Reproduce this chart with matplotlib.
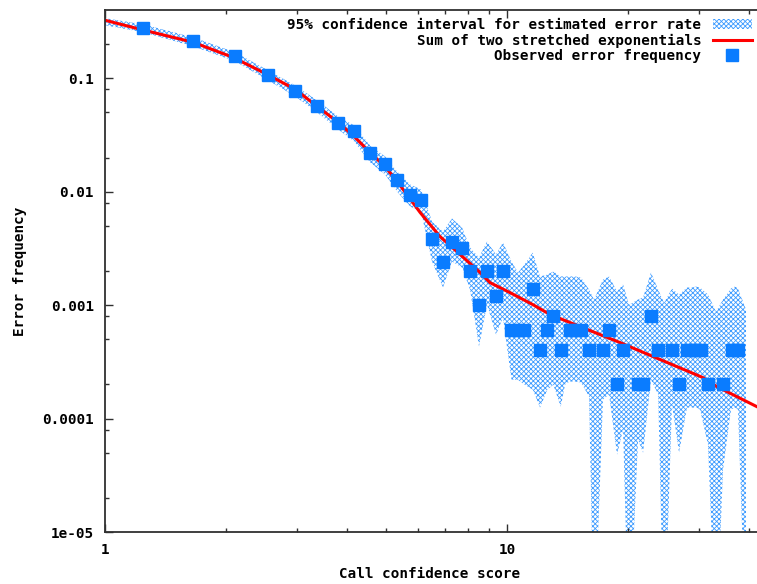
import matplotlib
matplotlib.use("Agg")
import matplotlib.pyplot as plt
from matplotlib.ticker import FixedLocator, FixedFormatter, NullFormatter

# observed error frequency per call-confidence bin
obs_score = [1.243, 1.655, 2.106, 2.544, 2.970, 3.369, 3.798, 4.164, 4.563, 4.972,
             5.326, 5.736, 6.110, 6.508, 6.931, 7.297, 7.728, 8.091, 8.518, 8.918,
             9.389, 9.772, 10.26, 10.65, 11.05, 11.59, 12.08, 12.60, 13.04, 13.60,
             14.31, 14.79, 15.28, 16.00, 17.30, 17.94, 18.75, 19.40, 21.18, 21.80,
             22.78, 23.79, 25.69, 26.83, 28.04, 28.77, 29.53, 30.29, 31.67, 34.52,
             36.18, 36.91, 37.55]
obs_freq = [0.276, 0.212, 0.156, 0.106, 0.0768, 0.0566, 0.0401, 0.0340, 0.0218, 0.0174,
            0.0126, 0.0093, 0.0085, 0.0038, 0.0024, 0.0036, 0.0032, 0.0020, 0.0010, 0.0020,
            0.0012, 0.0020, 0.0006, 0.0006, 0.0006, 0.0014, 0.0004, 0.0006, 0.0008, 0.0004,
            0.0006, 0.0006, 0.0006, 0.0004, 0.0004, 0.0006, 0.0002, 0.0004, 0.0002, 0.0002,
            0.0008, 0.0004, 0.0004, 0.0002, 0.0004, 0.0004, 0.0004, 0.0004, 0.0002, 0.0002,
            0.0004, 0.0004, 0.0004]

# fitted model (sum of two stretched exponentials)
fit_score = [1.0, 1.222, 1.655, 2.082, 2.529, 2.97, 3.37, 3.80, 4.19, 4.56, 4.97,
             5.33, 6.08, 6.81, 7.64, 8.57, 9.07, 10.17, 11.6, 12.8, 15.2, 19.1,
             23.1, 30.7, 33.3, 41.9, 46.0]
fit_freq = [0.325, 0.2707, 0.208, 0.153, 0.1084, 0.080, 0.0566, 0.0409, 0.0301,
            0.0222, 0.0167, 0.01233, 0.00656, 0.00403, 0.0028, 0.00194, 0.00158,
            0.00129, 0.00101, 0.000826, 0.000647, 0.000468, 0.000352, 0.00023,
            0.000191, 0.000127, 0.000112]

# 95% confidence band (lower bound 1e-6 = bin with no errors, runs off the axis)
ci_score = [1.0, 1.243, 1.655, 2.106, 2.544, 2.970, 3.369, 3.798, 4.164, 4.563,
            4.972, 5.326, 5.736, 6.110, 6.508, 6.931, 7.297, 7.728, 8.091, 8.518,
            8.918, 9.389, 9.772, 10.26, 10.65, 11.05, 11.59, 12.08, 12.60, 13.04,
            13.60, 13.94, 14.31, 14.77, 15.28, 16.00, 16.46, 17.33, 17.94, 18.78,
            19.44, 20.11, 21.18, 21.80, 22.81, 23.77, 24.58, 25.73, 26.79, 28.04,
            28.86, 29.53, 30.21, 31.62, 33.11, 34.46, 36.07, 36.91, 37.55, 39.31]
ci_low = [0.2936, 0.2547, 0.1916, 0.1413, 0.0960, 0.0694, 0.0501, 0.0355, 0.0278, 0.01814,
          0.01421, 0.01006, 0.00742, 0.0067, 0.002425, 0.00143, 0.002425, 0.002147, 0.001373, 0.000431,
          0.001012, 0.00055, 0.000777, 0.00022, 0.00022, 0.000199, 0.00018, 0.000125, 0.00018, 0.000199,
          0.000127, 0.000199, 0.000212, 0.000212, 0.000208, 0.000156, 1e-6, 0.000147, 0.000163, 0.000048,
          0.00008, 1e-6, 0.000065, 0.00005, 0.00022, 0.000163, 1e-6, 0.000133, 0.00005, 0.000125,
          0.000125, 0.000125, 0.00012, 0.0000588, 1e-6, 0.0000354, 0.00012, 0.000125, 0.00012, 1e-6]
ci_high = [0.3386, 0.2996, 0.2301, 0.1696, 0.1176, 0.0867, 0.0639, 0.0462, 0.0385, 0.0256,
           0.0205, 0.0151, 0.0116, 0.01048, 0.00547, 0.00446, 0.00581, 0.00484, 0.003224, 0.00263,
           0.00364, 0.0028, 0.00357, 0.002425, 0.00194, 0.00228, 0.00291, 0.00179, 0.00186, 0.00198,
           0.00179, 0.00179, 0.00179, 0.00179, 0.00175, 0.00137, 0.00112, 0.00168, 0.00179, 0.00132,
           0.00152, 0.00101, 0.00112, 0.00117, 0.00194, 0.00137, 0.00105, 0.0014, 0.00124, 0.00143,
           0.00143, 0.00146, 0.00143, 0.00124, 0.000878, 0.00112, 0.0014, 0.00146, 0.0014, 0.000915]

y_major = [1e-5, 1e-4, 1e-3, 1e-2, 0.1]
y_major_labels = ["1e-05", "0.0001", "0.001", "0.01", "0.1"]
x_major = [1, 10]
x_major_labels = ["1", "10"]

BAND = "#3d9bff"
POINT = "#0a7cff"
LINE = "#ff0000"
FONT = dict(family="DejaVu Sans Mono", weight="bold", size=10.3)

plt.rcParams["hatch.linewidth"] = 0.6
plt.rcParams["font.family"] = "DejaVu Sans Mono"
plt.rcParams["font.weight"] = "bold"
plt.rcParams["font.size"] = 10.3

W, H = 757, 584
fig = plt.figure(figsize=(W / 100, H / 100), dpi=100)
# plot area runs past the right edge of the picture, as in the original crop
ax = fig.add_axes([105 / W, 52 / H, 665 / W, 522 / H])

band = ax.fill_between(ci_score, ci_low, ci_high, facecolor="none", edgecolor=BAND,
                       hatch="xxxxxxx", linewidth=0,
                       label="95% confidence interval for estimated error rate")
curve, = ax.plot(fit_score, fit_freq, color=LINE, lw=2.2,
                 label="Sum of two stretched exponentials")
pts, = ax.plot(obs_score, obs_freq, "s", color=POINT, ms=8, mec=POINT,
               label="Observed error frequency")

ax.set_xscale("log")
ax.set_yscale("log")
ax.set_xlim(1, 45.1)
ax.set_ylim(1e-5, 0.4)

ax.xaxis.set_major_locator(FixedLocator(x_major))
ax.xaxis.set_major_formatter(FixedFormatter(x_major_labels))
ax.xaxis.set_minor_locator(FixedLocator([2, 3, 4, 5, 6, 7, 8, 9, 20, 30, 40]))
ax.xaxis.set_minor_formatter(NullFormatter())
ax.yaxis.set_major_locator(FixedLocator(y_major))
ax.yaxis.set_major_formatter(FixedFormatter(y_major_labels))
ax.yaxis.set_minor_locator(FixedLocator(
    [m * 10.0 ** e for e in range(-5, 0) for m in (2, 5, 8)]))
ax.yaxis.set_minor_formatter(NullFormatter())
ax.tick_params(which="both", direction="in", top=True, right=True, width=1,
               color="#303030")
ax.tick_params(which="major", length=6)
ax.tick_params(which="minor", length=3)
ax.tick_params(axis="x", pad=8)
ax.tick_params(axis="y", pad=8)
for s in ax.spines.values():
    s.set_color("#303030")
    s.set_linewidth(1.3)

fig.text(430 / W, 1 - 574 / H, "Call confidence score", ha="center", va="center", **FONT)
fig.text(20 / W, 1 - 271 / H, "Error frequency", ha="center", va="center",
         rotation=90, **FONT)

ax.legend([band, curve, pts],
          [band.get_label(), curve.get_label(), pts.get_label()],
          markerfirst=False, frameon=False, numpoints=1,
          loc="upper right", bbox_to_anchor=(752 / W, 1 - 18 / H),
          bbox_transform=fig.transFigure, borderaxespad=0, borderpad=0,
          handlelength=2.75, handletextpad=0.8, labelspacing=0.1,
          prop=dict(family="DejaVu Sans Mono", weight="bold", size=10.3))

fig.savefig("out.png", dpi=100)
